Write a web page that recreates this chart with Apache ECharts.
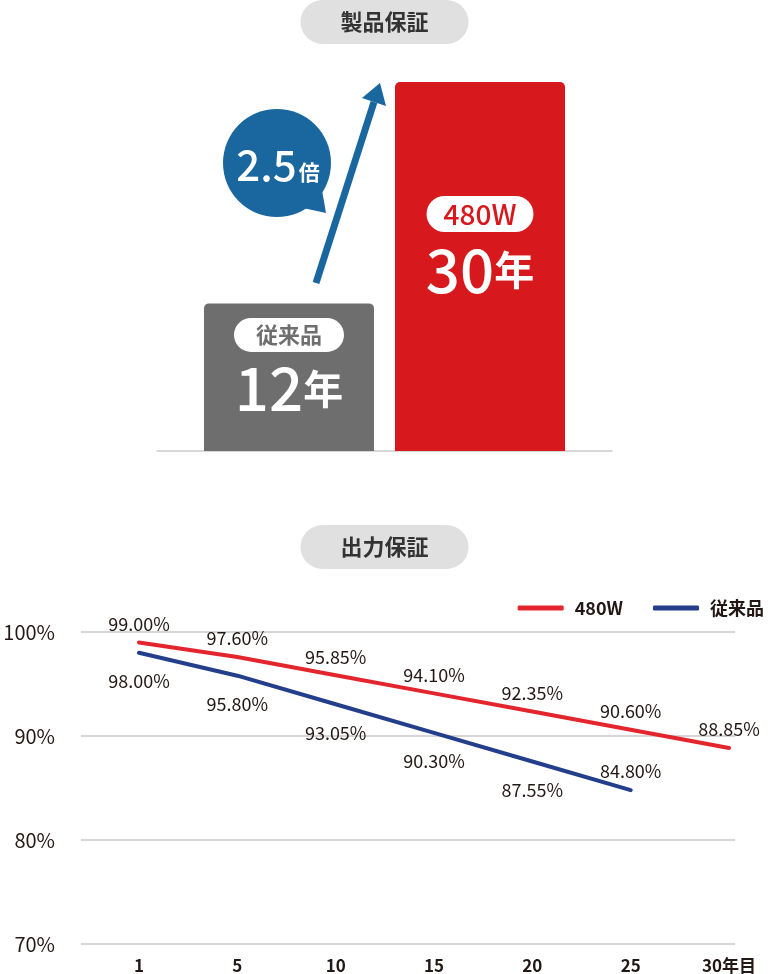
<!DOCTYPE html>
<html>
<head>
<meta charset="utf-8">
<script src="https://cdn.jsdelivr.net/npm/echarts@6/dist/echarts.min.js"></script>
<style>
    html, body { margin: 0; padding: 0; background: #fff; }
    #chart { width: 769px; height: 974px; }
</style>
</head>
<body>
<div id="chart"></div>
<script>
// --- Datos: garantía del producto (años) ---
const productos = ["従来品", "480W"];
const aniosGarantia = [12, 30];
const coloresBarra = ["#6e6e6e", "#d7181c"];

// --- Datos: garantía de salida (%) ---
const anioLabels = ["1", "5", "10", "15", "20", "25", "30年目"];
const salida480W = [99.00, 97.60, 95.85, 94.10, 92.35, 90.60, 88.85];
const salidaConv = [98.00, 95.80, 93.05, 90.30, 87.55, 84.80, null];
const ejeY = [70, 100, 10];

const fuente = "'Noto Sans CJK JP', 'Noto Sans', sans-serif";
const texto = "#231815";

var myChart = echarts.init(document.getElementById("chart"));

// etiqueta de cada barra: pastilla + años
function barLabel(i, dist) {
    return {
        show: true,
        position: "insideTop",
        distance: dist,
        formatter: () => `{${i === 0 ? "pg" : "pr"}|${productos[i]}}\n{num|${aniosGarantia[i]}}{unit|年}`,
        rich: {
            pg: { backgroundColor: "#fff", color: "#6e6e6e", fontSize: 22, fontWeight: "bold", borderRadius: 18, padding: [6, 22], lineHeight: 23, fontFamily: fuente },
            pr: { backgroundColor: "#fff", color: "#d7181c", fontSize: 28, fontWeight: 500, borderRadius: 18, padding: [4, 17], lineHeight: 28, fontFamily: fuente },
            num: { color: "#fff", fontSize: 60, fontWeight: 500, lineHeight: 84, fontFamily: fuente },
            unit: { color: "#fff", fontSize: 40, fontWeight: "bold", lineHeight: 84, fontFamily: fuente }
        }
    };
}

const pill = (txt, top) => ({
    text: txt,
    left: "center",
    top: top,
    padding: [11, 40],
    backgroundColor: "#e0e0e0",
    borderRadius: 22,
    textStyle: { fontSize: 22, fontWeight: "bold", color: "#333", lineHeight: 22, fontFamily: fuente }
});

const azul = "#1a67a0";

myChart.setOption({
    animation: false,
    textStyle: { fontFamily: fuente },
    title: [pill("製品保証", 0), pill("出力保証", 525)],
    legend: {
        data: ["480W", "従来品"],
        right: 0,
        top: 594,
        icon: "roundRect",
        itemWidth: 46,
        itemHeight: 5,
        itemGap: 30,
        textStyle: { fontSize: 18, fontWeight: "bold", color: texto, padding: [0, 0, 0, 6] }
    },
    grid: [
        { left: 157, right: 157, top: 82, bottom: 523 },
        { left: 81, right: 34, top: 632, bottom: 30 },
        { left: 139, right: 40, top: 632, bottom: 30 }
    ],
    xAxis: [
        {
            gridIndex: 0, type: "value", min: -0.691, max: 1.691,
            axisLine: { show: true, lineStyle: { color: "#cccccc", width: 1.5 } },
            axisTick: { show: false }, axisLabel: { show: false }, splitLine: { show: false }
        },
        { gridIndex: 1, type: "value", min: 0, max: 1, show: false },
        {
            gridIndex: 2, type: "category", data: anioLabels, boundaryGap: false,
            axisLine: { show: false }, axisTick: { show: false },
            axisLabel: { fontSize: 17, fontWeight: "bold", color: texto, margin: 13, interval: 0 }
        }
    ],
    yAxis: [
        { gridIndex: 0, type: "value", min: 0, max: 30, show: false },
        {
            gridIndex: 1, type: "value", min: ejeY[0], max: ejeY[1], interval: ejeY[2],
            axisLine: { show: false }, axisTick: { show: false },
            axisLabel: { formatter: "{value}%", fontSize: 20, color: texto, margin: 26 },
            splitLine: { lineStyle: { color: "#c9c9c9", width: 1.5 } }
        },
        { gridIndex: 2, type: "value", min: ejeY[0], max: ejeY[1], show: false }
    ],
    series: [
        {
            type: "bar",
            xAxisIndex: 0,
            yAxisIndex: 0,
            barWidth: 170,
            data: aniosGarantia.map((v, i) => ({
                value: [i, v],
                itemStyle: { color: coloresBarra[i], borderRadius: [5, 5, 0, 0] },
                label: barLabel(i, i === 0 ? 20 : 118)
            }))
        },
        {
            name: "480W",
            type: "line",
            xAxisIndex: 2,
            yAxisIndex: 2,
            data: salida480W,
            symbol: "circle",
            symbolSize: 1,
            color: "#e3262d",
            lineStyle: { width: 4, cap: "round" },
            label: {
                show: true, position: "top", distance: 9,
                formatter: (p) => p.value.toFixed(2) + "%",
                fontSize: 18, color: texto
            }
        },
        {
            name: "従来品",
            type: "line",
            xAxisIndex: 2,
            yAxisIndex: 2,
            data: salidaConv.map((v, i) => i === 5
                ? { value: v, label: { position: "top", distance: 9 } }
                : v),
            symbol: "circle",
            symbolSize: 1,
            color: "#233f8c",
            lineStyle: { width: 4, cap: "round" },
            label: {
                show: true, position: "bottom", distance: 19,
                formatter: (p) => p.value == null ? "" : p.value.toFixed(2) + "%",
                fontSize: 18, color: texto
            }
        }
    ],
    graphic: [
        // flecha
        { type: "line", shape: { x1: 316, y1: 283, x2: 374, y2: 102 }, style: { stroke: azul, lineWidth: 7 } },
        { type: "polygon", shape: { points: [[380, 83], [362, 98], [386, 106]] }, style: { fill: azul } },
        // burbuja
        { type: "circle", shape: { cx: 277, cy: 163, r: 54 }, style: { fill: azul } },
        { type: "polygon", shape: { points: [[303, 208], [326, 213], [322, 190]] }, style: { fill: azul } },
        {
            type: "text",
            x: 278, y: 165,
            style: {
                text: "{a|2.5}{b|倍}",
                align: "center",
                verticalAlign: "middle",
                rich: {
                    a: { fill: "#fff", fontSize: 42, fontWeight: 500, fontFamily: fuente, lineHeight: 44 },
                    b: { fill: "#fff", fontSize: 21, fontWeight: "bold", fontFamily: fuente, lineHeight: 44, padding: [14, 0, 0, 2] }
                }
            }
        }
    ]
});
</script>
</body>
</html>
